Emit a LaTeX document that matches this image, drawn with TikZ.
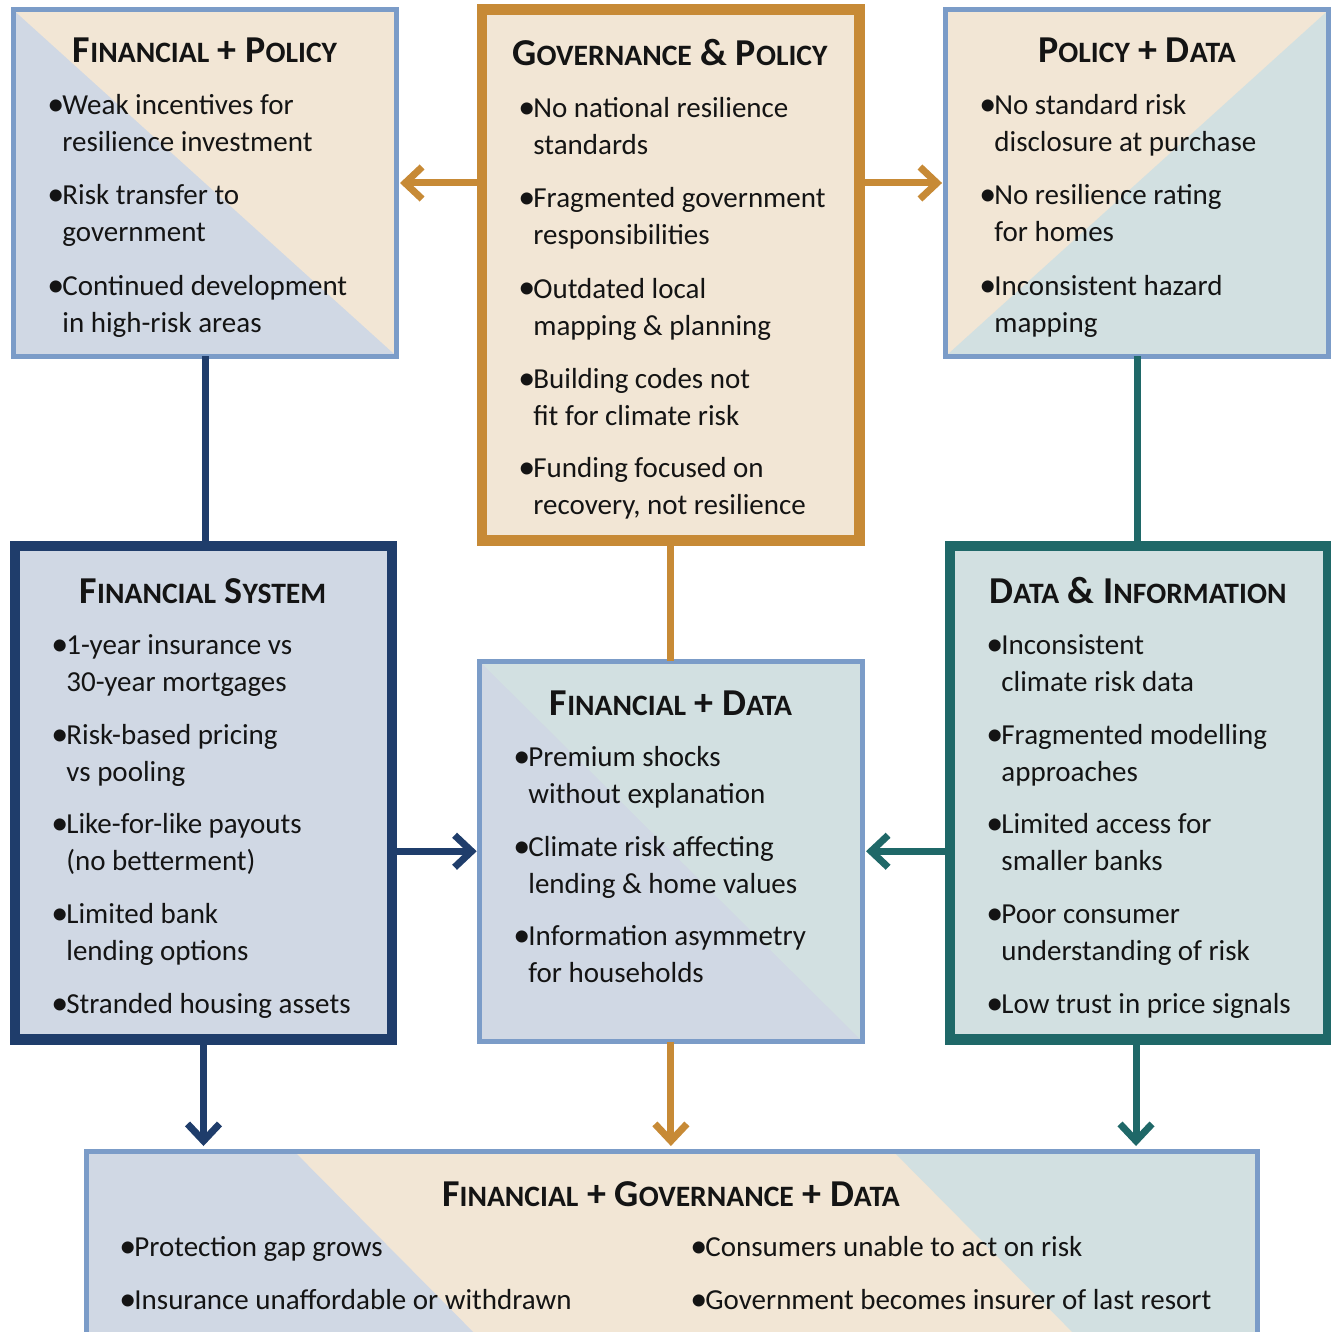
\documentclass[tikz,border=0pt]{standalone}
\usepackage{fontspec}
\setmainfont{Carlito}
\usetikzlibrary{arrows.meta,calc}

\definecolor{navy}{HTML}{1F3D6B}
\definecolor{tealdk}{HTML}{1F6868}
\definecolor{ochre}{HTML}{C78A36}
\definecolor{edgeblue}{HTML}{7B9CC8}
\definecolor{fillblue}{HTML}{D0D8E4}
\definecolor{fillbeige}{HTML}{F2E6D5}
\definecolor{fillteal}{HTML}{D2E0E1}
\definecolor{ink}{HTML}{141414}

% small capitals built from two sizes of upper case
\newcommand\capsmall[1]{{\fontsize{14.8}{14}\selectfont\MakeUppercase{#1}}}

% one bullet item: name, bullet x, baseline y, first line, second line
\newcommand\bitem[5]{%
  \node[bul] (#1-b) at (#2-1,#3+2) {\raisebox{-0.5pt}{\textbullet}};
  \node[txt] (#1-1) at (#2+14,#3+2) {#4};
  \if\relax\detokenize{#5}\relax\else
    \node[txt] (#1-2) at (#2+14,#3+39) {#5};
  \fi
}

\tikzset{
  box/.style={rectangle, inner sep=0pt, outer sep=0pt},
  thinbox/.style={box, draw=edgeblue, line width=2.5pt},
  thickbox/.style={box, line width=5.35pt},
  sz/.style 2 args={minimum width=#1*0.5pt, minimum height=#2*0.5pt},
  head/.style={anchor=base, inner sep=0pt, text=ink,
               font=\fontsize{19}{19}\selectfont\bfseries},
  txt/.style={anchor=base west, inner sep=0pt, text=ink,
              font=\fontsize{14.5}{16}\selectfont},
  bul/.style={txt, font=\fontsize{17}{16}\selectfont},
  link/.style={line width=3.5pt},
  tip/.style={-{Straight Barb[length=8.5pt,width=16pt]}},
}

\begin{document}
\begin{tikzpicture}[x=0.5pt,y=-0.5pt]
\useasboundingbox (0,0) rectangle (1331,1332);
\clip (0,0) rectangle (1331,1332);

% ---------- boxes ----------
\node[thinbox, sz={383}{346}, fill=fillblue,
  path picture={\fill[fillbeige] (path picture bounding box.north west)
     -- (path picture bounding box.north east)
     -- (path picture bounding box.south east) -- cycle;}]
  (fp) at (205,183) {};

\node[thickbox, draw=ochre, fill=fillbeige, sz={377.5}{530.6}]
  (gp) at (670.75,275) {};

\node[thinbox, sz={382.7}{346}, fill=fillbeige,
  path picture={\fill[fillteal] (path picture bounding box.north east)
     -- (path picture bounding box.south east)
     -- (path picture bounding box.south west) -- cycle;}]
  (pd) at (1137.2,183) {};

\node[thickbox, draw=navy, fill=fillblue, sz={377}{493.7}]
  (fs) at (203.5,792.9) {};

\node[thinbox, sz={383.2}{380.5}, fill=fillblue,
  path picture={\fill[fillteal] (path picture bounding box.north west)
     -- (path picture bounding box.north east)
     -- (path picture bounding box.south east) -- cycle;}]
  (fd) at (670.9,851.25) {};

\node[thickbox, draw=tealdk, fill=fillteal, sz={378}{493.7}]
  (di) at (1139,792.9) {};

% bottom box: slanted bands, coordinates relative to the box centre
\node[thinbox, sz={1170.5}{189}, fill=fillbeige,
  path picture={
    \fill[fillblue] (-591.75,-105.5) -- (-388.75,-105.5) -- (-180.75,104.5)
                    -- (-591.75,104.5) -- cycle;
    \fill[fillteal] (210.25,-105.5) -- (598.25,-105.5) -- (598.25,104.5)
                    -- (418.25,104.5) -- cycle;}]
  (bt) at (671.75,1245.5) {};

% ---------- connectors ----------
\draw[link, ochre, tip] (gp.west |- fp.east) -- ([xshift=1.75pt]fp.east);
\draw[link, ochre, tip] (gp.east |- pd.west) -- ([xshift=-1.9pt]pd.west);
\draw[link, navy] (fp.south) -- (fp.south |- fs.north);
\draw[link, tealdk] (pd.south) -- (pd.south |- di.north);
\draw[link, ochre] (gp.south) -- (gp.south |- fd.north);
\draw[link, navy, tip] (fs.east |- fd.west) -- ([xshift=-1.3pt]fd.west);
\draw[link, tealdk, tip] (di.west |- fd.east) -- ([xshift=1.75pt]fd.east);
\draw[link, navy, tip] (fs.south) -- ($(fs.south |- bt.north)+(0,-5)$);
\draw[link, ochre, tip] (fd.south) -- ($(fd.south |- bt.north)+(0,-5)$);
\draw[link, tealdk, tip] ([xshift=-1.5pt]di.south) -- ($([xshift=-1.5pt]di.south |- bt.north)+(0,-5)$);

% ---------- Financial + Policy ----------
\node[head] (fp-h) at (205,63) {F\capsmall{inancial} + P\capsmall{olicy}};
\bitem{fp1}{48}{113}{Weak incentives for}{resilience investment}
\bitem{fp2}{48}{203}{Risk transfer to}{government}
\bitem{fp3}{48}{293}{Continued development}{in high-risk areas}

% ---------- Governance & Policy ----------
\node[head] (gp-h) at (670,66) {G\capsmall{overnance} \& P\capsmall{olicy}};
\bitem{gp1}{519}{116}{No national resilience}{standards}
\bitem{gp2}{519}{206}{Fragmented government}{responsibilities}
\bitem{gp3}{519}{296}{Outdated local}{mapping \& planning}
\bitem{gp4}{519}{386}{Building codes not}{fit for climate risk}
\bitem{gp5}{519}{475}{Funding focused on}{recovery, not resilience}

% ---------- Policy + Data ----------
\node[head] (pd-h) at (1137,63) {P\capsmall{olicy} + D\capsmall{ata}};
\bitem{pd1}{980}{113}{No standard risk}{disclosure at purchase}
\bitem{pd2}{980}{203}{No resilience rating}{for homes}
\bitem{pd3}{980}{293}{Inconsistent hazard}{mapping}

% ---------- Financial System ----------
\node[head] (fs-h) at (203,603) {F\capsmall{inancial} S\capsmall{ystem}};
\bitem{fs1}{52}{652}{1-year insurance vs}{30-year mortgages}
\bitem{fs2}{52}{742}{Risk-based pricing}{vs pooling}
\bitem{fs3}{52}{831}{Like-for-like payouts}{(no betterment)}
\bitem{fs4}{52}{921}{Limited bank}{lending options}
\bitem{fs5}{52}{1011}{Stranded housing assets}{}

% ---------- Financial + Data ----------
\node[head] (fd-h) at (671,715) {F\capsmall{inancial} + D\capsmall{ata}};
\bitem{fd1}{514}{764}{Premium shocks}{without explanation}
\bitem{fd2}{514}{854}{Climate risk affecting}{lending \& home values}
\bitem{fd3}{514}{943}{Information asymmetry}{for households}

% ---------- Data & Information ----------
\node[head] (di-h) at (1138,603) {D\capsmall{ata} \& I\capsmall{nformation}};
\bitem{di1}{987}{652}{Inconsistent}{climate risk data}
\bitem{di2}{987}{742}{Fragmented modelling}{approaches}
\bitem{di3}{987}{831}{Limited access for}{smaller banks}
\bitem{di4}{987}{921}{Poor consumer}{understanding of risk}
\bitem{di5}{987}{1011}{Low trust in price signals}{}

% ---------- Financial + Governance + Data ----------
\node[head] (bt-h) at (671,1206) {F\capsmall{inancial} + G\capsmall{overnance} + D\capsmall{ata}};
\bitem{bt1}{120}{1254}{Protection gap grows}{}
\bitem{bt2}{120}{1307}{Insurance unaffordable or withdrawn}{}
\bitem{bt3}{691}{1254}{Consumers unable to act on risk}{}
\bitem{bt4}{691}{1307}{Government becomes insurer of last resort}{}
\end{tikzpicture}
\end{document}
